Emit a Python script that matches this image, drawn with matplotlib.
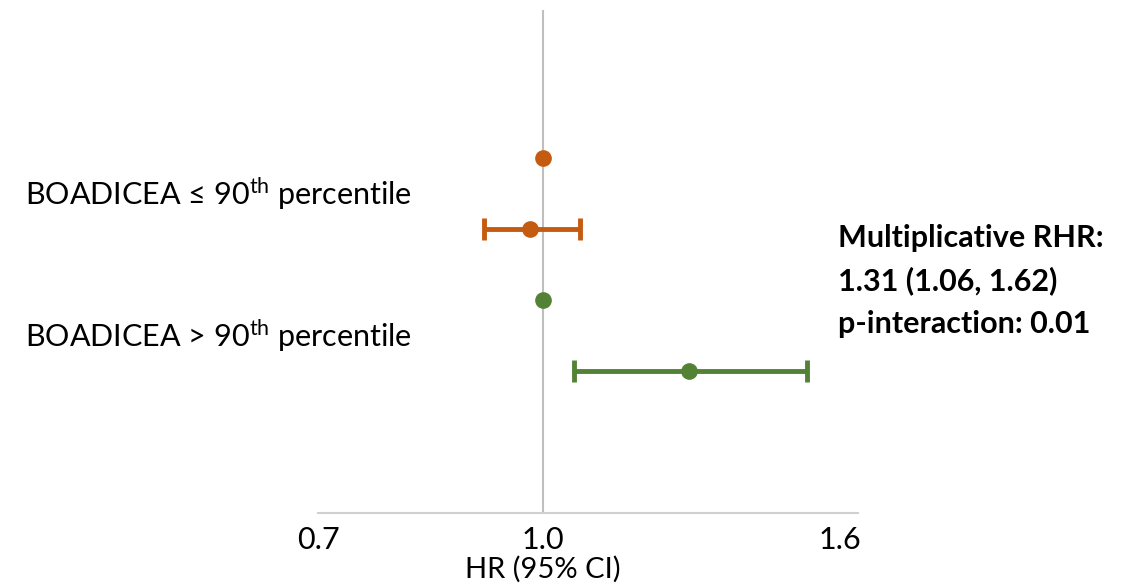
import matplotlib
matplotlib.use("Agg")
import matplotlib.pyplot as plt
import numpy as np

# forest plot values
groups = ["BOADICEA \u2264 90$^{\\mathrm{th}}$ percentile",
          "BOADICEA > 90$^{\\mathrm{th}}$ percentile"]
colors = ["#C55A11", "#548235"]
ref_hr = [1.0, 1.0]
hr = [0.98, 1.26]
ci_low = [0.91, 1.05]
ci_high = [1.06, 1.52]
tick_vals = [0.7, 1.0, 1.6]
tick_labels = ["0.7", "1.0", "1.6"]
note_lines = ["Multiplicative RHR:", "1.31 (1.06, 1.62)", "p-interaction: 0.01"]

plt.rcParams['font.family'] = ['Lato', 'DejaVu Sans']
plt.rcParams['mathtext.fontset'] = 'custom'
plt.rcParams['mathtext.rm'] = 'Lato'

fig = plt.figure(figsize=(11.25, 5.85), dpi=100)
ax = fig.add_axes([0.2827, 0.123, 0.48, 0.86])

ax.set_xscale('log')
ax.set_xlim(0.7, 1.647)
ax.set_ylim(0, 7.08)

ax.axvline(1.0, color="#BFBFBF", lw=1.5, zorder=0)

for i in range(len(groups)):
    y_ref = 5 - 2 * i
    y_est = y_ref - 1
    ax.plot([ref_hr[i]], [y_ref], 'o', color=colors[i], ms=11, zorder=3)
    ax.errorbar([hr[i]], [y_est],
                xerr=[[hr[i] - ci_low[i]], [ci_high[i] - hr[i]]],
                fmt='o', color=colors[i], ms=11, elinewidth=3.5,
                capsize=8, capthick=3.5, zorder=3)
    ax.text(-0.5426, y_ref - 0.5, groups[i], transform=ax.get_yaxis_transform(),
            ha='left', va='center', fontsize=22)

for k, line in enumerate(note_lines):
    fig.text(838 / 1125, 1 - (238 + 43 * k) / 585, line, ha='left', va='center',
             fontsize=22, fontweight='bold')

for s in ['top', 'right', 'left']:
    ax.spines[s].set_visible(False)
ax.spines['bottom'].set_color("#D0D0D0")
ax.spines['bottom'].set_linewidth(1.5)
ax.set_yticks([])
ax.set_xticks(tick_vals)
ax.set_xticklabels(tick_labels, fontsize=22)
ax.xaxis.set_minor_locator(matplotlib.ticker.NullLocator())
ax.tick_params(axis='x', length=0, pad=9)
ax.set_xlabel("HR (95% CI)", fontsize=21, labelpad=0)
ax.xaxis.set_label_coords((543 - 318) / 540, -0.085)

fig.savefig("out.png", dpi=100)
